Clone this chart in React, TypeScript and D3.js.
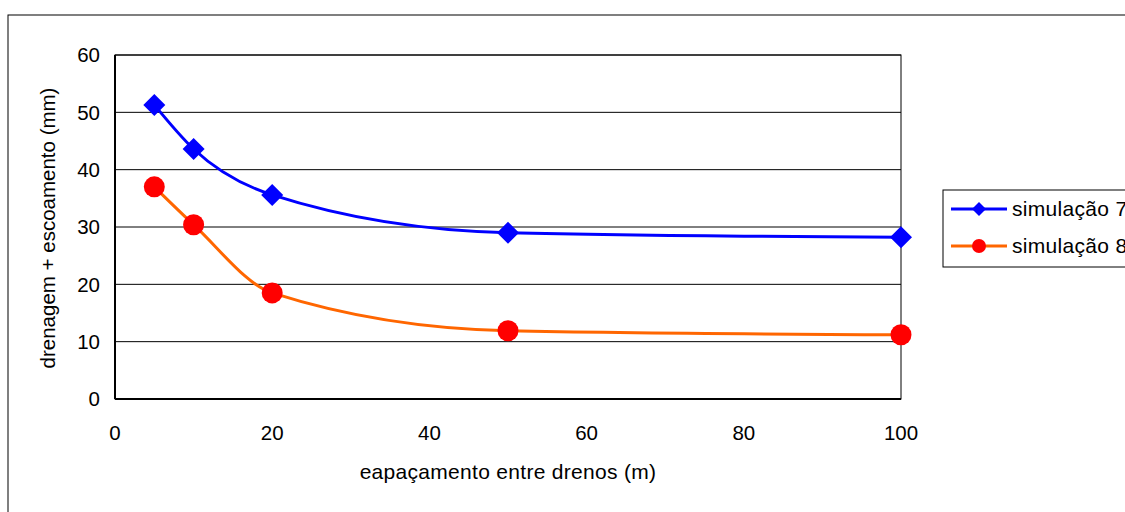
import React from "react";
import * as d3 from "d3";

const xValues = [5, 10, 20, 50, 100];
const sim7 = [51.3, 43.6, 35.6, 29.0, 28.2];
const sim8 = [37.0, 30.4, 18.5, 11.9, 11.2];
const xTicks = [0, 20, 40, 60, 80, 100];
const yTicks = [0, 10, 20, 30, 40, 50, 60];
const seriesNames = ["simulação 7", "simulação 8"];

const W = 1125, H = 512;
const left = 115, right = 901, top = 55, bottom = 399;
const font = "Liberation Sans, Arial, sans-serif";
const fs = 20.5;

export default function App() {
  const x = d3.scaleLinear().domain([0, 100]).range([left, right]);
  const y = d3.scaleLinear().domain([0, 60]).range([bottom, top]);
  const line = d3
    .line<number>()
    .x((_, i) => x(xValues[i]))
    .y((d) => y(d))
    .curve(d3.curveMonotoneX);
  const diamond = (cx: number, cy: number, r: number) =>
    `M${cx},${cy - r}L${cx + r},${cy}L${cx},${cy + r}L${cx - r},${cy}Z`;
  return (
    <svg width={W} height={H} style={{ position: "absolute", left: 0, top: 0 }}>
      <rect x={0} y={0} width={W} height={H} fill="#fff" />
      <rect x={8} y={15} width={W + 10} height={H + 10} fill="none" stroke="#000" strokeWidth={1} />
      {yTicks.map((t) => (
        <g key={"y" + t}>
          {t > 0 && <line x1={left} x2={right} y1={y(t)} y2={y(t)} stroke="#000" strokeWidth={1} />}
          <text x={100} y={y(t)} dy="0.35em" textAnchor="end" fontFamily={font} fontSize={fs}>
            {t}
          </text>
        </g>
      ))}
      {xTicks.map((t) => (
        <text key={"x" + t} x={x(t)} y={433} dy="0.35em" textAnchor="middle" fontFamily={font} fontSize={fs}>
          {t}
        </text>
      ))}
      <rect x={left} y={top} width={right - left} height={bottom - top} fill="none" stroke="#000" strokeWidth={1} />
      <line x1={left} x2={left} y1={top} y2={bottom} stroke="#000" strokeWidth={2} />
      <line x1={left} x2={right} y1={bottom} y2={bottom} stroke="#000" strokeWidth={2} />
      <path d={line(sim7) || ""} fill="none" stroke="#0000FF" strokeWidth={3} />
      <path d={line(sim8) || ""} fill="none" stroke="#FF6600" strokeWidth={3} />
      {sim7.map((v, i) => (
        <path key={"d" + i} d={diamond(x(xValues[i]), y(v), 11)} fill="#0000FF" />
      ))}
      {sim8.map((v, i) => (
        <circle key={"c" + i} cx={x(xValues[i])} cy={y(v)} r={10.5} fill="#FF0000" />
      ))}
      <text x={508} y={472} dy="0.35em" textAnchor="middle" fontFamily={font} fontSize={21} letterSpacing={0.3}>
        eapaçamento entre drenos (m)
      </text>
      <text
        transform={`translate(48,228) rotate(-90)`}
        dy="0.35em"
        textAnchor="middle"
        fontFamily={font}
        fontSize={fs}
      >
        drenagem + escoamento (mm)
      </text>
      <rect x={943} y={190} width={200} height={77} fill="#fff" stroke="#000" strokeWidth={1} />
      <line x1={951} x2={1007} y1={209} y2={209} stroke="#0000FF" strokeWidth={3} />
      <path d={diamond(979, 209, 7)} fill="#0000FF" />
      <text x={1012} y={209} dy="0.35em" fontFamily={font} fontSize={21} letterSpacing={0.3}>
        {seriesNames[0]}
      </text>
      <line x1={951} x2={1007} y1={246} y2={246} stroke="#FF6600" strokeWidth={3} />
      <circle cx={979} cy={246} r={7} fill="#FF0000" />
      <text x={1012} y={246} dy="0.35em" fontFamily={font} fontSize={21} letterSpacing={0.3}>
        {seriesNames[1]}
      </text>
    </svg>
  );
}
